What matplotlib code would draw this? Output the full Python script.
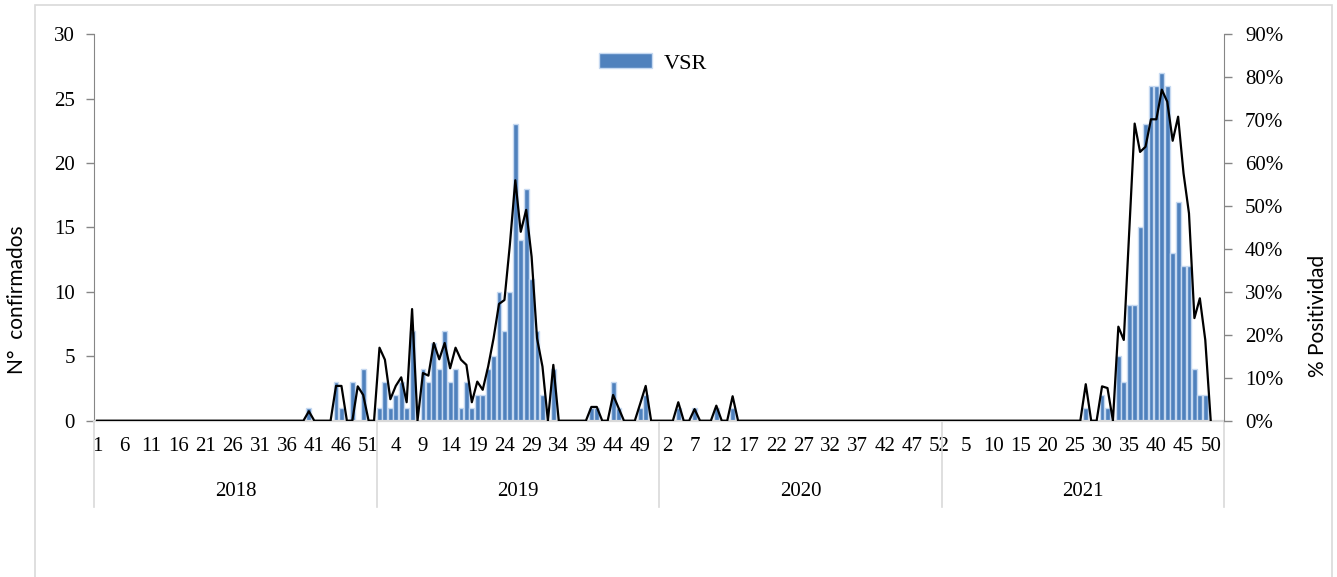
import numpy as np
import matplotlib
matplotlib.use("Agg")
import matplotlib.pyplot as plt
from matplotlib.patches import Rectangle

plt.rcParams['font.family'] = ['Liberation Serif', 'DejaVu Serif']

years = ["2018", "2019", "2020", "2021"]
week_labels_step = 5

# casos confirmados de VSR por semana epidemiologica (52 semanas por año)
conf_2018 = [0, 0, 0, 0, 0, 0, 0, 0, 0, 0, 0, 0, 0,
             0, 0, 0, 0, 0, 0, 0, 0, 0, 0, 0, 0, 0,
             0, 0, 0, 0, 0, 0, 0, 0, 0, 0, 0, 0, 0,
             1, 0, 0, 0, 0, 3, 1, 0, 3, 0, 4, 0, 0]
conf_2019 = [1, 3, 1, 2, 3, 1, 7, 0, 4, 3, 6, 4, 7,
             3, 4, 1, 3, 1, 2, 2, 4, 5, 10, 7, 10, 23,
             14, 18, 11, 7, 2, 0, 4, 0, 0, 0, 0, 0, 0,
             1, 1, 0, 0, 3, 1, 0, 0, 0, 1, 2, 0, 0]
conf_2020 = [0, 0, 0, 1, 0, 0, 1, 0, 0, 0, 1, 0, 0,
             1, 0, 0, 0, 0, 0, 0, 0, 0, 0, 0, 0, 0,
             0, 0, 0, 0, 0, 0, 0, 0, 0, 0, 0, 0, 0,
             0, 0, 0, 0, 0, 0, 0, 0, 0, 0, 0, 0, 0]
conf_2021 = [0, 0, 0, 0, 0, 0, 0, 0, 0, 0, 0, 0, 0,
             0, 0, 0, 0, 0, 0, 0, 0, 0, 0, 0, 0, 0,
             1, 0, 0, 2, 1, 0, 5, 3, 9, 9, 15, 23, 26,
             26, 27, 26, 13, 17, 12, 12, 4, 2, 2, 0, 0, 0]

# % positividad
pos_2018 = [0, 0, 0, 0, 0, 0, 0, 0, 0, 0, 0, 0, 0,
            0, 0, 0, 0, 0, 0, 0, 0, 0, 0, 0, 0, 0,
            0, 0, 0, 0, 0, 0, 0, 0, 0, 0, 0, 0, 0,
            2.2, 0, 0, 0, 0, 8.1, 8.1, 0, 0, 8.0, 6.0, 0, 0]
pos_2019 = [17.0, 14.2, 5.0, 8.1, 10.1, 4.3, 26.0, 0, 11.1, 10.5, 18.1, 14.3, 18.1,
            12.2, 17.0, 14.2, 13.0, 4.3, 9.1, 7.2, 12.6, 19.2, 27.2, 28.1, 41.0, 56.0,
            44.0, 49.1, 38.2, 19.2, 12.6, 0, 13.0, 0, 0, 0, 0, 0, 0,
            3.2, 3.2, 0, 0, 6.0, 3.0, 0, 0, 0, 4.0, 8.1, 0, 0]
pos_2020 = [0, 0, 0, 4.3, 0, 0, 2.7, 0, 0, 0, 3.5, 0, 0,
            5.7, 0, 0, 0, 0, 0, 0, 0, 0, 0, 0, 0, 0,
            0, 0, 0, 0, 0, 0, 0, 0, 0, 0, 0, 0, 0,
            0, 0, 0, 0, 0, 0, 0, 0, 0, 0, 0, 0, 0]
pos_2021 = [0, 0, 0, 0, 0, 0, 0, 0, 0, 0, 0, 0, 0,
            0, 0, 0, 0, 0, 0, 0, 0, 0, 0, 0, 0, 0,
            8.5, 0, 0, 8.0, 7.6, 0, 21.9, 18.8, 44.0, 69.2, 62.6, 63.8, 70.2,
            70.2, 77.1, 74.3, 65.2, 70.8, 57.6, 48.3, 23.9, 28.5, 18.8, 0, np.nan, np.nan]

conf = np.array(conf_2018 + conf_2019 + conf_2020 + conf_2021, dtype=float)
pos = np.array(pos_2018 + pos_2019 + pos_2020 + pos_2021, dtype=float)
weeks = list(range(1, 53)) * 4
x = np.arange(1, len(conf) + 1)

fig = plt.figure(figsize=(13.37, 5.77), dpi=100)
ax = fig.add_axes([0.0705, 0.2709, 0.8452, 0.6697])

bars = ax.bar(x, conf, width=0.9, color='#4f81bd', edgecolor='#c6d9f1',
              linewidth=1.0, label='VSR', zorder=2)
ax.set_xlim(0.5, len(x) + 0.5)
ax.set_ylim(0, 30)
ax.set_yticks(range(0, 31, 5))
ax.tick_params(axis='y', direction='out', length=6, width=1, color='#868686',
               pad=8, labelsize=15)

ax.set_xticks(x[::week_labels_step])
ax.set_xticklabels([str(weeks[i - 1]) for i in x[::week_labels_step]])
ax.tick_params(axis='x', length=0, pad=12, labelsize=15)

for s in ['top', 'right']:
    ax.spines[s].set_visible(False)
ax.spines['left'].set_color('#868686')
ax.spines['bottom'].set_color('#d9d9d9')
ax.spines['bottom'].set_linewidth(1.6)

# separadores de año y etiquetas
tr = ax.get_xaxis_transform()
for k in range(len(years) + 1):
    b = 0.5 + 52 * k
    ax.plot([b, b], [0, -0.223], transform=tr, color='#d9d9d9', lw=1.2,
            clip_on=False)
for k, yr in enumerate(years):
    ax.text(52 * k + 26.5, -0.184, yr, transform=tr, ha='center', va='center',
            fontsize=15)

ax2 = ax.twinx()
ax2.plot(x, pos, color='black', lw=1.6, zorder=3)
ax2.set_ylim(0, 90)
ax2.set_yticks(range(0, 91, 10))
ax2.set_yticklabels([f"{v}%" for v in range(0, 91, 10)])
ax2.tick_params(axis='y', direction='out', length=6, width=1, color='#868686',
                pad=9, labelsize=15)
for s in ['top', 'left', 'bottom']:
    ax2.spines[s].set_visible(False)
ax2.spines['right'].set_color('#868686')

fig.text(17 / 1337, 1 - 300 / 577, "N°  confirmados", rotation=90,
         family='Lato', fontsize=15, ha='center', va='center')
fig.text(1318 / 1337, 1 - 316 / 577, "% Positividad", rotation=90,
         family='Lato', fontsize=15, ha='center', va='center')

fig.legend(handles=[bars], labels=['VSR'], loc='center',
           bbox_to_anchor=(653 / 1337, 1 - 63.5 / 577), frameon=False,
           handlelength=2.4, handleheight=0.65, handletextpad=0.5, fontsize=16)

fig.add_artist(Rectangle((35 / 1337, -0.02), (1332 - 35) / 1337, 1.02 - 5 / 577,
                         transform=fig.transFigure, fill=False,
                         edgecolor='#d9d9d9', lw=1.2))

fig.savefig("out.png", dpi=100)
